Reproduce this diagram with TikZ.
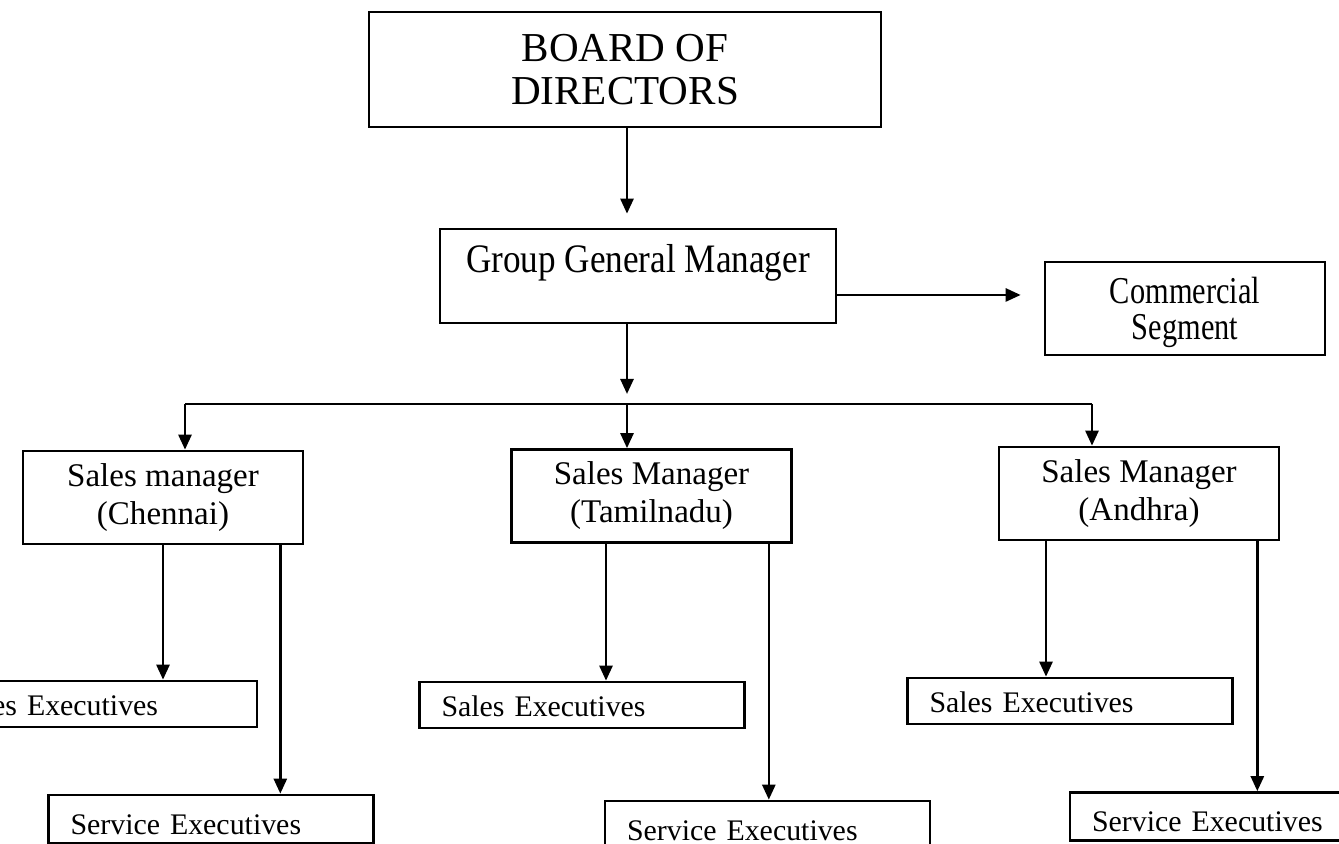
\documentclass[tikz,border=0pt]{standalone}
\usepackage{fontspec}
\setmainfont{Liberation Serif}
\newfontfamily\narrowfont[FakeStretch=0.87]{Liberation Serif}
\newfontfamily\narrowerfont[FakeStretch=0.8]{Liberation Serif}
\usetikzlibrary{arrows.meta}

\tikzset{
  box/.style={draw, line width=0.75pt, inner sep=0pt},
  managerbox/.style={box, align=center, minimum width=2.8cm, minimum height=0.93cm, font=\fontsize{9.4}{10.8}\selectfont},
  execbox/.style={draw, line width=0.75pt, inner xsep=0.22cm, inner ysep=0pt, text width=2.81cm, align=left, text depth=0pt, font=\fontsize{8.5}{10}\selectfont},
  salesbox/.style={execbox, minimum height=0.46cm, text height=0.24cm},
  servicebox/.style={execbox, minimum height=0.48cm, text height=0.31cm},
  link/.style={line width=0.75pt, -{Triangle[length=0.15cm,width=0.13cm]}}
}

\begin{document}
\begin{tikzpicture}
        \useasboundingbox (0,0) rectangle (13.39,8.44);
        \clip (0,0) rectangle (13.39,8.44);

        % Top of the chart
        \node[box, align=center, minimum width=5.12cm, minimum height=1.15cm, font=\fontsize{11.7}{12.3}\selectfont] (board) at (6.25,7.745) {BOARD OF\\DIRECTORS};
        \node[box, minimum width=3.96cm, minimum height=0.94cm, text depth=0.34cm, font=\narrowfont\fontsize{11.5}{12}\selectfont] (ggm) at (6.38,5.68) {Group General Manager};
        \node[box, align=center, minimum width=2.8cm, minimum height=0.93cm, text depth=0pt, font=\narrowerfont\fontsize{10.8}{10.4}\selectfont] (segment) at (11.85,5.355) {Commercial\\Segment};

        % Sales managers
        \node[managerbox] (chennai) at (1.63,3.465) {Sales manager\\(Chennai)};
        \node[managerbox] (tamilnadu) at (6.515,3.48) {Sales Manager\\(Tamilnadu)};
        \node[managerbox] (andhra) at (11.39,3.505) {Sales Manager\\(Andhra)};

        % Executives
        \node[salesbox] (chennaisales) at (0.945,1.40) {Sales Executives};
        \node[servicebox] (chennaiservice) at (2.11,0.25) {Service Executives};
        \node[salesbox] (tamilnadusales) at (5.82,1.39) {Sales Executives};
        \node[servicebox] (tamilnaduservice) at (7.675,0.19) {Service Executives};
        \node[salesbox] (andhrasales) at (10.70,1.43) {Sales Executives};
        \node[servicebox] (andhraservice) at (12.325,0.275) {Service Executives};

        % Branch line over the managers
        \coordinate (busleft) at (1.85,4.40);
        \coordinate (busmid) at (6.27,4.40);
        \coordinate (busright) at (10.92,4.40);
        \draw[line width=0.75pt] (busleft) -- (busright);

        % Arrows from the top
        \draw[link, shorten >=0.14cm] (board.south -| busmid) -- (ggm.north -| busmid);
        \draw[link, shorten >=0.23cm] ([yshift=-0.19cm]ggm.east) -- ([yshift=-0.19cm]ggm.east -| segment.west);
        \draw[link, shorten >=0.10cm] (ggm.south -| busmid) -- (busmid);
        \draw[link] (busleft) -- (busleft |- chennai.north);
        \draw[link] (busmid) -- (busmid |- tamilnadu.north);
        \draw[link] (busright) -- (busright |- andhra.north);

        % Arrows to the executives
        \draw[link] (chennai.south) -- (chennai.south |- chennaisales.north);
        \draw[link] ([xshift=-0.24cm]chennai.south east) -- ([xshift=-0.24cm]chennai.south east |- chennaiservice.north);
        \draw[link] ([xshift=-0.455cm]tamilnadu.south) -- ([xshift=-0.455cm]tamilnadu.south |- tamilnadusales.north);
        \draw[link] ([xshift=-0.24cm]tamilnadu.south east) -- ([xshift=-0.24cm]tamilnadu.south east |- tamilnaduservice.north);
        \draw[link] ([xshift=-0.93cm]andhra.south) -- ([xshift=-0.93cm]andhra.south |- andhrasales.north);
        \draw[link] ([xshift=-0.23cm]andhra.south east) -- ([xshift=-0.23cm]andhra.south east |- andhraservice.north);
    \end{tikzpicture}
\end{document}
